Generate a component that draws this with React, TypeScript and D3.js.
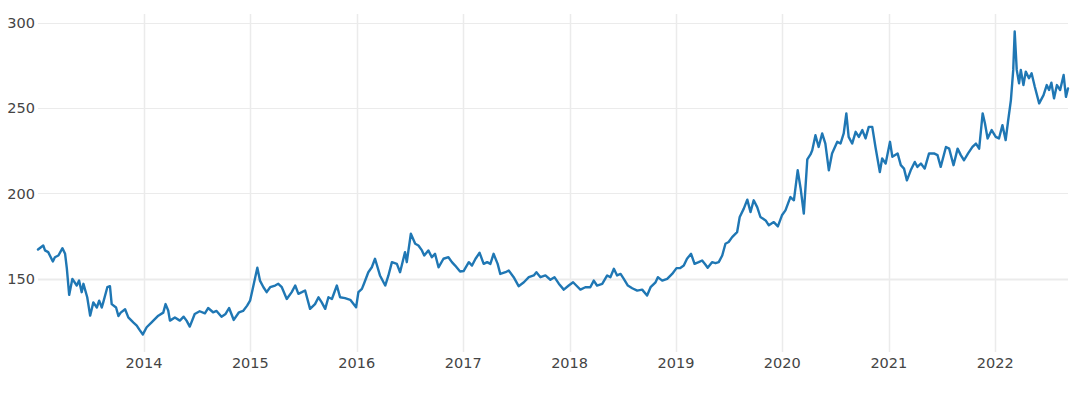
import React from "react";
import * as d3 from "d3";

// closing prices, every 2 weeks
const y2013: [string, number][] = [
  ["2013-01-02", 167], ["2013-01-20", 169.4], ["2013-01-26", 166.5], ["2013-02-06", 165.5],
  ["2013-02-22", 160], ["2013-03-01", 162.5], ["2013-03-13", 163.5], ["2013-03-27", 167.8],
  ["2013-04-05", 164.5], ["2013-04-11", 155.9], ["2013-04-19", 140.4], ["2013-04-30", 149.8],
  ["2013-05-15", 145.9], ["2013-05-23", 148.8], ["2013-06-01", 142], ["2013-06-07", 146.9],
  ["2013-06-20", 139], ["2013-06-30", 128.2], ["2013-07-11", 136], ["2013-07-23", 133],
  ["2013-07-31", 137], ["2013-08-09", 133], ["2013-08-14", 136], ["2013-08-28", 144.9],
  ["2013-09-06", 145.5], ["2013-09-12", 135], ["2013-09-27", 133], ["2013-10-05", 128],
  ["2013-10-13", 130], ["2013-10-28", 132], ["2013-11-08", 127.2], ["2013-11-25", 124.3],
  ["2013-12-07", 122.4], ["2013-12-16", 120], ["2013-12-28", 117.2],
];
const y2014: [string, number][] = [
  ["2014-01-10", 121.4], ["2014-01-27", 124.3], ["2014-02-19", 128.2], ["2014-03-08", 130],
  ["2014-03-16", 135], ["2014-03-25", 131.2], ["2014-03-31", 125.3], ["2014-04-17", 127.2],
  ["2014-05-04", 125.3], ["2014-05-17", 127.6], ["2014-05-27", 125.3], ["2014-06-07", 121.8],
  ["2014-06-24", 129.2], ["2014-07-11", 130.8], ["2014-07-29", 129.6], ["2014-08-09", 132.7],
  ["2014-08-26", 130.2], ["2014-09-07", 131], ["2014-09-24", 127.6], ["2014-10-08", 129.2],
  ["2014-10-20", 132.7], ["2014-11-05", 125.7], ["2014-11-23", 130.2], ["2014-12-07", 131],
  ["2014-12-21", 134.1], ["2014-12-31", 137],
];
const y2015: [string, number][] = [
  ["2015-01-09", 143.9], ["2015-01-25", 156.3], ["2015-02-03", 148.8], ["2015-02-15", 144.9],
  ["2015-02-26", 142], ["2015-03-10", 144.9], ["2015-03-27", 145.9], ["2015-04-07", 146.9],
  ["2015-04-19", 144.9], ["2015-05-06", 138], ["2015-05-23", 142], ["2015-06-04", 145.9],
  ["2015-06-15", 141], ["2015-06-27", 142], ["2015-07-08", 143], ["2015-07-25", 132.2],
  ["2015-08-11", 135], ["2015-08-23", 139], ["2015-09-03", 136], ["2015-09-15", 132.2],
  ["2015-09-26", 139], ["2015-10-08", 138], ["2015-10-25", 145.9], ["2015-11-05", 139],
  ["2015-11-22", 138.5], ["2015-12-10", 137.5], ["2015-12-30", 133.1],
];
const y2016: [string, number][] = [
  ["2016-01-07", 142], ["2016-01-19", 143.9], ["2016-01-26", 146.9], ["2016-02-10", 153.7],
  ["2016-02-22", 156.6], ["2016-03-04", 161.6], ["2016-03-21", 151.8], ["2016-04-08", 145.9],
  ["2016-04-19", 151.8], ["2016-05-01", 159.6], ["2016-05-18", 158.6], ["2016-05-29", 153.7],
  ["2016-06-15", 165.5], ["2016-06-21", 159.6], ["2016-07-05", 176.3], ["2016-07-20", 170.4],
  ["2016-07-31", 169.4], ["2016-08-12", 166.5], ["2016-08-20", 163.5], ["2016-09-03", 166.5],
  ["2016-09-15", 162.5], ["2016-09-26", 164.5], ["2016-10-08", 156.6], ["2016-10-25", 161.6],
  ["2016-11-11", 162.5], ["2016-11-23", 159.6], ["2016-12-04", 157.6], ["2016-12-21", 154.1],
];
const y2017: [string, number][] = [
  ["2017-01-02", 154.4], ["2017-01-20", 159.6], ["2017-01-31", 157.6], ["2017-02-12", 161.6],
  ["2017-02-26", 165.1], ["2017-03-12", 158.6], ["2017-03-24", 159.6], ["2017-04-04", 158.6],
  ["2017-04-15", 164.5], ["2017-04-29", 158.6], ["2017-05-08", 152.7], ["2017-05-26", 153.7],
  ["2017-06-06", 154.7], ["2017-06-23", 150.8], ["2017-07-10", 145.5], ["2017-07-28", 147.8],
  ["2017-08-14", 150.8], ["2017-08-31", 151.8], ["2017-09-09", 153.7], ["2017-09-23", 150.8],
  ["2017-10-10", 151.8], ["2017-10-27", 149.3], ["2017-11-10", 150.8], ["2017-11-25", 147],
  ["2017-12-12", 143.5], ["2017-12-29", 145.9],
];
const y2018: [string, number][] = [
  ["2018-01-13", 147.8], ["2018-01-24", 145.9], ["2018-02-07", 143.5], ["2018-02-24", 144.9],
  ["2018-03-13", 144.9], ["2018-03-25", 148.8], ["2018-04-05", 145.9], ["2018-04-23", 146.9],
  ["2018-05-10", 151.8], ["2018-05-21", 150.8], ["2018-06-02", 155.7], ["2018-06-13", 151.8],
  ["2018-06-25", 152.7], ["2018-07-06", 149.8], ["2018-07-20", 145.9], ["2018-08-04", 144.3],
  ["2018-08-21", 142.9], ["2018-09-07", 143.5], ["2018-09-24", 140], ["2018-10-06", 144.9],
  ["2018-10-23", 147.8], ["2018-10-31", 150.8], ["2018-11-15", 148.8], ["2018-12-02", 149.8],
  ["2018-12-19", 152.7],
];
const y2019: [string, number][] = [
  ["2019-01-03", 156.1], ["2019-01-16", 156.2], ["2019-01-28", 157.6], ["2019-02-08", 161.6],
  ["2019-02-22", 164.5], ["2019-03-06", 158.6], ["2019-03-20", 159.6], ["2019-04-01", 160.6],
  ["2019-04-12", 158.2], ["2019-04-20", 156.3], ["2019-05-05", 159.6], ["2019-05-17", 159],
  ["2019-05-28", 159.6], ["2019-06-09", 163.5], ["2019-06-20", 170.4], ["2019-07-01", 171.4],
  ["2019-07-13", 174.3], ["2019-07-30", 177.2], ["2019-08-08", 186.1], ["2019-08-22", 191],
  ["2019-09-03", 196.3], ["2019-09-14", 189], ["2019-09-25", 195.9], ["2019-10-07", 191.9],
  ["2019-10-18", 186.1], ["2019-11-05", 184.1], ["2019-11-16", 181.2], ["2019-12-03", 183.1],
  ["2019-12-17", 180.6], ["2019-12-31", 187.1],
];
const y2020: [string, number][] = [
  ["2020-01-12", 190], ["2020-01-29", 197.8], ["2020-02-10", 195.9], ["2020-02-23", 213.5],
  ["2020-03-04", 203], ["2020-03-15", 188.1], ["2020-03-27", 219.9], ["2020-04-07", 222.8],
  ["2020-04-13", 225.3], ["2020-04-24", 234.1], ["2020-05-05", 227.2], ["2020-05-17", 235.1],
  ["2020-05-28", 229.2], ["2020-06-09", 213.5], ["2020-06-20", 223.4], ["2020-07-08", 230.2],
  ["2020-07-19", 229.2], ["2020-07-30", 235.1], ["2020-08-08", 246.9], ["2020-08-16", 233.1],
  ["2020-08-28", 229.2], ["2020-09-09", 236.1], ["2020-09-20", 233.1], ["2020-10-02", 237.1],
  ["2020-10-13", 232.2], ["2020-10-24", 239], ["2020-11-05", 239], ["2020-11-16", 227.2],
  ["2020-12-01", 212.5], ["2020-12-09", 220.4], ["2020-12-21", 217.5],
];
const y2021: [string, number][] = [
  ["2021-01-05", 230.2], ["2021-01-13", 221.4], ["2021-01-31", 223.4], ["2021-02-11", 216.5],
  ["2021-02-22", 214.5], ["2021-03-04", 207.6], ["2021-03-17", 213.5], ["2021-03-31", 218.4],
  ["2021-04-09", 215.5], ["2021-04-21", 217.5], ["2021-05-04", 214.5], ["2021-05-19", 223.4],
  ["2021-06-05", 223.4], ["2021-06-17", 222.4], ["2021-06-28", 215.5], ["2021-07-16", 227.2],
  ["2021-07-27", 226.2], ["2021-08-11", 216.5], ["2021-08-25", 226.2], ["2021-09-05", 222.4],
  ["2021-09-16", 219.4], ["2021-09-30", 223.4], ["2021-10-15", 227.2], ["2021-10-27", 229.2],
  ["2021-11-07", 226.2], ["2021-11-19", 246.9], ["2021-11-27", 241], ["2021-12-06", 232.2],
  ["2021-12-20", 237.1],
];
const y2022: [string, number][] = [
  ["2022-01-03", 233.1], ["2022-01-14", 232.2], ["2022-01-26", 240], ["2022-02-06", 231.2],
  ["2022-02-14", 242], ["2022-02-24", 254.7], ["2022-03-04", 272.4], ["2022-03-09", 294.9],
  ["2022-03-16", 272.4], ["2022-03-24", 264.5], ["2022-03-30", 272.4], ["2022-04-08", 263.5],
  ["2022-04-16", 271.4], ["2022-04-27", 267.5], ["2022-05-06", 270.4], ["2022-05-17", 262.5],
  ["2022-06-01", 252.8], ["2022-06-16", 257.6], ["2022-06-27", 263.5], ["2022-07-05", 260.6],
  ["2022-07-13", 264.9], ["2022-07-22", 255.7], ["2022-08-01", 263.5], ["2022-08-12", 260.6],
  ["2022-08-24", 269.4], ["2022-09-01", 256.6], ["2022-09-08", 261.5],
];

const yTicks = [150, 200, 250, 300];
const xTickYears = [2014, 2015, 2016, 2017, 2018, 2019, 2020, 2021, 2022];

const width = 1080;
const height = 393;
const margin = { top: 14, right: 12, bottom: 41, left: 38 };
const lineColor = "#1f77b4";
const gridColor = "#ebebeb";
const font = "'DejaVu Sans', Verdana, sans-serif";

const parse = d3.timeParse("%Y-%m-%d");

const App = () => {
  const data = [y2013, y2014, y2015, y2016, y2017, y2018, y2019, y2020, y2021, y2022]
    .flat()
    .map(([d, v]) => ({ date: parse(d) as Date, value: v }));

  const x = d3.scaleTime()
    .domain(d3.extent(data, d => d.date) as [Date, Date])
    .range([margin.left, width - margin.right]);

  const [lo, hi] = d3.extent(data, d => d.value) as [number, number];
  const pad = (hi - lo) * 0.058;
  const y = d3.scaleLinear()
    .domain([lo - pad, hi + pad])
    .range([height - margin.bottom, margin.top]);

  const line = d3.line<{ date: Date; value: number }>()
    .x(d => x(d.date))
    .y(d => y(d.value));

  const crisp = (v: number) => Math.round(v) + 0.5;

  return (
    <svg width={width} height={height} style={{ position: "absolute", left: 0, top: 0 }}>
      <rect width={width} height={height} fill="#fff" />
      {/* vertical grid */}
      {xTickYears.map(yr => {
        const px = crisp(x(new Date(yr, 0, 1)));
        return (
          <line key={"vx" + yr} x1={px} x2={px} y1={margin.top} y2={height - margin.bottom}
            stroke={gridColor} strokeWidth={1.5} />
        );
      })}
      {/* horizontal grid */}
      {yTicks.map(t => {
        const py = crisp(y(t));
        return (
          <line key={"hy" + t} x1={margin.left} x2={width - margin.right} y1={py} y2={py}
            stroke={gridColor} strokeWidth={t === 150 ? 2 : 1} />
        );
      })}
      <path d={line(data) ?? ""} fill="none" stroke={lineColor} strokeWidth={2.4}
        strokeLinejoin="round" strokeLinecap="round" />
      {yTicks.map(t => (
        <text key={"ly" + t} x={margin.left - 3} y={y(t)} dy="0.36em" textAnchor="end"
          fontFamily={font} fontSize={14.5} fill="#444">{t}</text>
      ))}
      {xTickYears.map(yr => (
        <text key={"lx" + yr} x={x(new Date(yr, 0, 1))} y={368} textAnchor="middle"
          fontFamily={font} fontSize={14.5} fill="#444">{yr}</text>
      ))}
    </svg>
  );
};

export default App;
